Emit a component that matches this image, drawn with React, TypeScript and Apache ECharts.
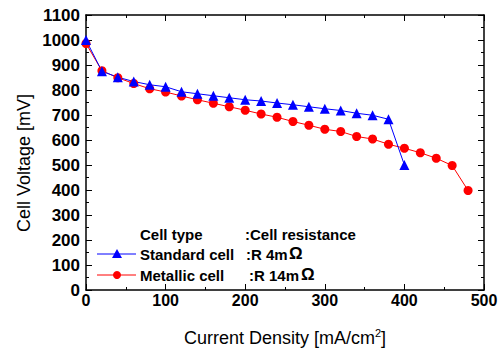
import React, { useEffect, useRef } from "react";
import * as echarts from "echarts";

const standardX = [0, 20, 40, 60, 80, 100, 120, 140, 160, 180, 200, 220, 240, 260, 280, 300, 320, 340, 360, 380, 400];
const standardY = [1000, 875, 851, 834, 821, 813, 793, 785, 777, 769, 761, 756, 748, 741, 733, 725, 718, 707, 699, 683, 500];
const metallicX = [0, 20, 40, 60, 80, 100, 120, 140, 160, 180, 200, 220, 240, 260, 280, 300, 320, 340, 360, 380, 400, 420, 440, 460, 480];
const metallicY = [986, 877, 849, 826, 805, 792, 776, 761, 747, 733, 719, 704, 691, 674, 659, 643, 634, 614, 604, 583, 567, 549, 527, 498, 398];

const legendHeader = ["Cell type", ":Cell resistance"];
const legendRows = [
  { name: "Standard cell", value: ":R 4m", color: "#0000ff", symbol: "triangle" },
  { name: "Metallic cell", value: ":R 14m", color: "#ff0000", symbol: "circle" },
];
const yTitle = "Cell Voltage [mV]";

export default function App() {
  const ref = useRef<HTMLDivElement>(null);
  useEffect(() => {
    const chart = echarts.init(ref.current!, null, { renderer: "svg" });
    const font = "Liberation Sans, Arial, sans-serif";
    const tickStyle = { show: true, inside: true, length: 6, lineStyle: { color: "#000", width: 1 } };
    const minorStyle = { show: true, splitNumber: 2, length: 3, lineStyle: { color: "#000", width: 1 } };
    const axisLine = { show: true, onZero: false, lineStyle: { color: "#000", width: 1.5 } };
    const label = { fontFamily: font, fontWeight: "bold" as const, color: "#000" };

    const graphic: any[] = [];
    const rowY = [254, 275];
    const lf = `bold 15px ${font}`;
    graphic.push({ type: "text", style: { x: 140, y: 234, verticalAlign: "middle", text: legendHeader[0], font: lf, fill: "#000" } });
    graphic.push({ type: "text", style: { x: 245, y: 234, verticalAlign: "middle", text: legendHeader[1], font: lf, fill: "#000" } });
    legendRows.forEach((r, i) => {
      const y = rowY[i];
      graphic.push({ type: "line", shape: { x1: 97, y1: y, x2: 136, y2: y }, style: { stroke: r.color, lineWidth: 1 } });
      if (r.symbol === "triangle") {
        graphic.push({ type: "polygon", shape: { points: [[117, y - 5], [112, y + 4], [122, y + 4]] }, style: { fill: r.color } });
      } else {
        graphic.push({ type: "circle", shape: { cx: 117, cy: y, r: 4 }, style: { fill: r.color } });
      }
      graphic.push({ type: "text", style: { x: 140, y, verticalAlign: "middle", text: r.name, font: lf, fill: "#000" } });
      graphic.push({ type: "text", style: { x: i === 0 ? 246 : 249, y, verticalAlign: "middle", text: r.value, font: lf, fill: "#000" } });
      graphic.push({ type: "text", style: { x: i === 0 ? 289 : 301, y: y - 1, verticalAlign: "middle", text: "Ω", font: `bold 17px ${font}`, fill: "#000" } });
    });
    graphic.push({
      type: "text", x: 24, y: 163, rotation: Math.PI / 2,
      style: { x: 0, y: 0, align: "center", verticalAlign: "middle", text: yTitle, font: `18px ${font}`, fill: "#000" },
    });

    chart.setOption({
      animation: false,
      backgroundColor: "#fff",
      grid: { left: 86, right: 17, top: 15, bottom: 60 },
      xAxis: [
        {
          type: "value", min: 0, max: 500, interval: 100,
          name: "Current Density [mA/cm{sup|2}]",
          nameLocation: "middle", nameGap: 37,
          nameTextStyle: { fontFamily: font, fontSize: 18, color: "#000", rich: { sup: { fontSize: 11, fontFamily: font, color: "#000", padding: [0, 0, 11, 0] } } },
          axisLine, axisTick: tickStyle, minorTick: minorStyle, splitLine: { show: false },
          axisLabel: { ...label, fontSize: 16, margin: 2 },
        },
        {
          type: "value", position: "top", min: 0, max: 500, interval: 100,
          axisLine, axisTick: tickStyle, minorTick: minorStyle, splitLine: { show: false },
          axisLabel: { show: false },
        },
      ],
      yAxis: [
        {
          type: "value", min: 0, max: 1100, interval: 100,
          axisLine, axisTick: tickStyle, minorTick: minorStyle, splitLine: { show: false },
          axisLabel: { ...label, fontSize: 17, margin: 6, formatter: (v: number) => String(v) },
        },
        {
          type: "value", position: "right", min: 0, max: 1100, interval: 100,
          axisLine, axisTick: tickStyle, minorTick: minorStyle, splitLine: { show: false },
          axisLabel: { show: false },
        },
      ],
      series: [
        {
          type: "line", name: "Metallic cell",
          data: metallicX.map((x, i) => [x, metallicY[i]]),
          symbol: "circle", symbolSize: 9,
          lineStyle: { color: "#ff0000", width: 1 }, itemStyle: { color: "#ff0000" },
        },
        {
          type: "line", name: "Standard cell",
          data: standardX.map((x, i) => [x, standardY[i]]),
          symbol: "triangle", symbolSize: 10,
          lineStyle: { color: "#0000ff", width: 1 }, itemStyle: { color: "#0000ff" },
        },
      ],
      graphic,
    });
    return () => chart.dispose();
  }, []);
  return <div ref={ref} style={{ width: 501, height: 352, position: "absolute", left: 0, top: 0 }} />;
}
